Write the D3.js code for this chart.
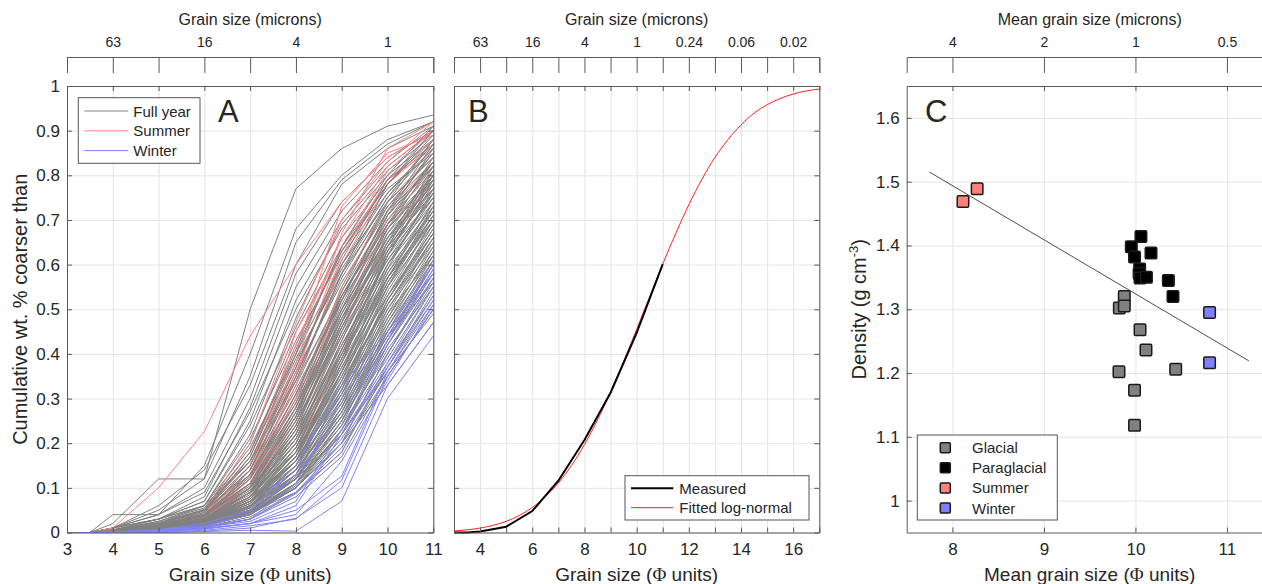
<!DOCTYPE html>
<html>
<head>
<meta charset="utf-8">
<script src="https://cdn.jsdelivr.net/npm/d3@7"></script>
<style>
  body { margin: 0; background: #fff; }
  svg text { font-family: "Liberation Sans", Arial, Helvetica, sans-serif; fill: #262626; }
</style>
</head>
<body>
<svg id="fig" width="1262" height="584"></svg>
<script>
// ---- panel A: cumulative curves (phi nodes shared by every curve)
const phiA = [3, 3.5, 4, 5, 6, 7, 8, 9, 10, 11];
const fullYear = [
  [0,0,0.01,0.05,0.12,0.50,0.77,0.86,0.91,0.935],
  [0,0,0.04,0.04,0.15,0.40,0.68,0.80,0.88,0.92],
  [0,0,0.02,0.12,0.12,0.35,0.65,0.79,0.87,0.92],
  [0,0,0.01,0.06,0.14,0.33,0.60,0.78,0.86,0.91],
  [0,0,0.01,0.04,0.10,0.30,0.58,0.74,0.84,0.90],
  [0,0,0.01,0.03,0.08,0.28,0.55,0.72,0.83,0.91],
  [0,0,0.005,0.03,0.07,0.25,0.52,0.70,0.82,0.90],
  [0,0,0.01,0.04,0.09,0.27,0.50,0.68,0.80,0.88],
  [0,0,0.004,0.02,0.06,0.22,0.48,0.69,0.81,0.89],
  [0,0,0.01,0.03,0.07,0.24,0.46,0.66,0.79,0.87],
  [0,0,0.003,0.02,0.05,0.20,0.45,0.64,0.78,0.88],
  [0,0,0.005,0.025,0.06,0.21,0.43,0.62,0.76,0.86],
  [0,0,0.004,0.02,0.05,0.18,0.42,0.63,0.77,0.85],
  [0,0,0.01,0.03,0.06,0.19,0.40,0.60,0.74,0.84],
  [0,0,0.003,0.015,0.045,0.17,0.39,0.58,0.73,0.83],
  [0,0,0.004,0.02,0.05,0.16,0.38,0.59,0.75,0.86],
  [0,0,0.005,0.02,0.04,0.15,0.36,0.56,0.72,0.82],
  [0,0,0.003,0.015,0.04,0.14,0.35,0.57,0.74,0.84],
  [0,0,0.006,0.03,0.06,0.16,0.34,0.53,0.69,0.80],
  [0,0,0.002,0.012,0.035,0.13,0.33,0.54,0.71,0.82],
  [0,0,0.004,0.02,0.045,0.14,0.32,0.52,0.68,0.79],
  [0,0,0.003,0.014,0.04,0.12,0.31,0.53,0.70,0.81],
  [0,0,0.002,0.01,0.03,0.11,0.30,0.50,0.67,0.78],
  [0,0,0.005,0.02,0.05,0.13,0.29,0.49,0.66,0.78],
  [0,0,0.003,0.012,0.035,0.12,0.28,0.48,0.65,0.77],
  [0,0,0.002,0.01,0.03,0.10,0.27,0.47,0.64,0.76],
  [0,0,0.004,0.018,0.04,0.11,0.26,0.46,0.63,0.75],
  [0,0,0.003,0.012,0.03,0.10,0.25,0.44,0.61,0.74],
  [0,0,0.002,0.01,0.025,0.09,0.24,0.45,0.62,0.75],
  [0,0,0.003,0.015,0.035,0.10,0.23,0.42,0.60,0.73],
  [0,0,0.002,0.01,0.03,0.09,0.22,0.41,0.59,0.72],
  [0,0,0.004,0.016,0.04,0.10,0.22,0.40,0.57,0.70],
  [0,0,0.002,0.01,0.025,0.08,0.21,0.39,0.57,0.71],
  [0,0,0.003,0.012,0.03,0.09,0.20,0.38,0.56,0.70],
  [0,0,0.002,0.008,0.02,0.07,0.19,0.37,0.55,0.69],
  [0,0,0.003,0.012,0.03,0.08,0.19,0.36,0.53,0.67],
  [0,0,0.002,0.01,0.025,0.08,0.18,0.35,0.53,0.68],
  [0,0,0.003,0.014,0.035,0.09,0.18,0.34,0.51,0.65],
  [0,0,0.002,0.008,0.02,0.07,0.17,0.33,0.51,0.66],
  [0,0,0.002,0.01,0.025,0.07,0.16,0.32,0.50,0.64],
  [0,0,0.003,0.012,0.03,0.08,0.16,0.31,0.48,0.63],
  [0,0,0.002,0.008,0.02,0.06,0.15,0.30,0.47,0.62],
  [0,0,0.002,0.01,0.025,0.07,0.15,0.29,0.46,0.61],
  [0,0,0.003,0.012,0.03,0.07,0.14,0.28,0.45,0.60],
  [0,0,0.002,0.008,0.02,0.06,0.14,0.27,0.44,0.60],
  [0,0,0.002,0.01,0.022,0.06,0.13,0.26,0.43,0.58],
  [0,0,0.002,0.008,0.02,0.05,0.12,0.25,0.42,0.57],
  [0,0,0.003,0.01,0.025,0.06,0.12,0.24,0.40,0.56],
  [0,0,0.002,0.008,0.018,0.05,0.11,0.23,0.39,0.55],
  [0,0,0.002,0.007,0.016,0.045,0.11,0.22,0.38,0.53],
  [0,0,0.002,0.008,0.02,0.05,0.10,0.21,0.37,0.52],
  [0,0,0.001,0.006,0.015,0.04,0.10,0.20,0.36,0.51],
  [0,0,0.002,0.007,0.018,0.045,0.09,0.19,0.35,0.50],
  [0,0,0.002,0.008,0.02,0.05,0.12,0.28,0.50,0.66],
  [0,0,0.003,0.01,0.025,0.07,0.17,0.36,0.58,0.74],
  [0,0,0.002,0.01,0.03,0.09,0.22,0.44,0.64,0.80],
  [0,0,0.004,0.015,0.04,0.12,0.30,0.55,0.73,0.85],
  [0,0,0.003,0.012,0.035,0.11,0.27,0.51,0.70,0.83],
  [0,0,0.002,0.01,0.03,0.10,0.25,0.49,0.69,0.82],
  [0,0,0.003,0.013,0.03,0.09,0.21,0.43,0.63,0.77],
  [0,0,0.002,0.01,0.025,0.08,0.19,0.39,0.60,0.76],
  [0,0,0.002,0.009,0.022,0.07,0.17,0.35,0.56,0.72],
  [0,0,0.002,0.008,0.02,0.06,0.15,0.33,0.54,0.70],
  [0,0,0.003,0.01,0.025,0.06,0.13,0.30,0.52,0.69],
  [0,0,0.002,0.008,0.018,0.05,0.12,0.27,0.48,0.65],
  [0,0,0.002,0.007,0.016,0.04,0.11,0.24,0.45,0.62],
  [0,0,0.001,0.006,0.015,0.04,0.10,0.22,0.42,0.59],
  [0,0,0.002,0.007,0.017,0.045,0.10,0.20,0.40,0.57],
  [0,0,0.001,0.005,0.012,0.035,0.09,0.18,0.37,0.54],
  [0,0,0.001,0.005,0.012,0.03,0.08,0.17,0.35,0.50],
  [0,0,0.002,0.008,0.02,0.045,0.10,0.20,0.33,0.47],
  [0,0,0.002,0.01,0.025,0.05,0.12,0.22,0.36,0.49],
  [0,0,0.003,0.013,0.03,0.09,0.23,0.46,0.66,0.80],
  [0,0,0.003,0.012,0.03,0.08,0.20,0.41,0.62,0.79],
  [0,0,0.002,0.012,0.03,0.10,0.26,0.50,0.71,0.86],
  [0,0,0.003,0.014,0.04,0.12,0.29,0.54,0.74,0.88],
  [0,0,0.002,0.01,0.03,0.14,0.34,0.58,0.78,0.90],
  [0,0,0.004,0.02,0.05,0.17,0.40,0.64,0.80,0.91],
  [0,0,0.003,0.015,0.04,0.13,0.31,0.52,0.72,0.87],
  [0,0,0.002,0.01,0.028,0.09,0.24,0.47,0.68,0.83],
  [0,0,0.002,0.009,0.022,0.06,0.16,0.34,0.55,0.71],
  [0,0,0.003,0.011,0.028,0.075,0.18,0.37,0.57,0.73],
  [0,0,0.002,0.01,0.024,0.065,0.17,0.38,0.60,0.75],
  [0,0,0.003,0.012,0.03,0.085,0.21,0.42,0.61,0.76],
  [0,0,0.002,0.009,0.024,0.07,0.19,0.40,0.62,0.78],
  [0,0,0.003,0.013,0.032,0.095,0.24,0.46,0.65,0.79],
  [0,0,0.002,0.01,0.026,0.08,0.22,0.45,0.67,0.81],
  [0,0,0.003,0.012,0.03,0.09,0.25,0.48,0.68,0.80],
  [0,0,0.002,0.008,0.02,0.055,0.14,0.31,0.53,0.70],
  [0,0,0.002,0.009,0.021,0.058,0.15,0.32,0.52,0.68],
  [0,0,0.001,0.006,0.015,0.045,0.12,0.28,0.49,0.66],
  [0,0,0.002,0.008,0.019,0.05,0.13,0.29,0.51,0.67],
  [0,0,0.002,0.007,0.017,0.048,0.125,0.26,0.47,0.64],
  [0,0,0.001,0.006,0.014,0.04,0.11,0.25,0.46,0.63],
  [0,0,0.002,0.007,0.016,0.042,0.105,0.23,0.43,0.61],
  [0,0,0.003,0.011,0.027,0.08,0.20,0.40,0.58,0.72],
  [0,0,0.004,0.016,0.038,0.11,0.28,0.50,0.66,0.77],
  [0,0,0.003,0.014,0.036,0.105,0.27,0.48,0.64,0.76],
  [0,0,0.004,0.017,0.042,0.125,0.31,0.53,0.69,0.79],
  [0,0,0.005,0.022,0.05,0.15,0.37,0.60,0.76,0.87],
  [0,0,0.004,0.02,0.048,0.14,0.35,0.58,0.75,0.88],
  [0,0,0.006,0.025,0.055,0.18,0.41,0.63,0.78,0.89],
  [0,0,0.005,0.022,0.052,0.16,0.37,0.61,0.79,0.90],
  [0,0,0.002,0.01,0.025,0.075,0.20,0.43,0.65,0.82],
  [0,0,0.002,0.009,0.022,0.065,0.18,0.41,0.64,0.81],
  [0,0,0.002,0.008,0.02,0.06,0.16,0.38,0.62,0.79],
  [0,0,0.002,0.008,0.019,0.055,0.15,0.36,0.59,0.77],
  [0,0,0.001,0.007,0.017,0.05,0.14,0.34,0.57,0.74],
  [0,0,0.001,0.006,0.015,0.045,0.13,0.32,0.55,0.73],
  [0,0,0.002,0.008,0.02,0.06,0.17,0.39,0.63,0.80],
  [0,0,0.003,0.012,0.03,0.09,0.23,0.47,0.69,0.84],
  [0,0,0.003,0.013,0.032,0.10,0.26,0.52,0.72,0.85],
  [0,0,0.003,0.015,0.036,0.11,0.28,0.53,0.71,0.83],
  [0,0,0.002,0.01,0.025,0.07,0.18,0.36,0.56,0.71],
  [0,0,0.002,0.009,0.023,0.065,0.16,0.33,0.52,0.67],
  [0,0,0.002,0.008,0.02,0.055,0.13,0.27,0.45,0.58],
  [0,0,0.002,0.007,0.017,0.05,0.12,0.26,0.44,0.56],
  [0,0,0.001,0.006,0.015,0.04,0.10,0.23,0.41,0.55],
  [0,0,0.002,0.007,0.016,0.045,0.11,0.25,0.43,0.60],
  [0,0,0.003,0.011,0.026,0.07,0.16,0.31,0.49,0.62]
];
const summer = [
  [0,0,0.01,0.10,0.226,0.44,0.60,0.74,0.84,0.90],
  [0,0,0.004,0.02,0.05,0.20,0.47,0.70,0.83,0.92],
  [0,0,0.003,0.015,0.04,0.17,0.42,0.66,0.82,0.90],
  [0,0,0.005,0.02,0.05,0.15,0.40,0.73,0.85,0.89],
  [0,0,0.003,0.012,0.035,0.13,0.36,0.62,0.79,0.88],
  [0,0,0.002,0.01,0.03,0.12,0.33,0.60,0.78,0.87],
  [0,0,0.003,0.015,0.04,0.14,0.38,0.67,0.86,0.92],
  [0,0,0.002,0.01,0.03,0.11,0.30,0.55,0.74,0.85],
  [0,0,0.003,0.012,0.035,0.10,0.28,0.52,0.72,0.83],
  [0,0,0.002,0.01,0.025,0.09,0.26,0.50,0.70,0.81],
  [0,0,0.002,0.008,0.02,0.08,0.22,0.45,0.66,0.79],
  [0,0,0.002,0.01,0.03,0.12,0.45,0.63,0.79,0.86],
  [0,0,0.002,0.008,0.02,0.07,0.18,0.40,0.62,0.78],
  [0,0,0.003,0.01,0.028,0.10,0.35,0.64,0.81,0.90]
];
const winter = [
  [0,0,0,0,0.002,0.005,0.003,0.07,0.30,0.44],
  [0,0,0,0,0.003,0.01,0.032,0.10,0.33,0.47],
  [0,0,0,0.001,0.005,0.015,0.03,0.117,0.35,0.50],
  [0,0,0,0.002,0.008,0.02,0.05,0.126,0.36,0.52],
  [0,0,0,0.002,0.01,0.03,0.087,0.18,0.38,0.55],
  [0,0,0,0.003,0.012,0.03,0.09,0.20,0.40,0.57],
  [0,0,0.001,0.004,0.012,0.025,0.07,0.23,0.42,0.58],
  [0,0,0,0.003,0.01,0.02,0.04,0.16,0.34,0.51],
  [0,0,0.001,0.005,0.015,0.04,0.13,0.26,0.43,0.59],
  [0,0,0.001,0.004,0.012,0.03,0.11,0.30,0.44,0.60],
  [0,0,0,0.002,0.008,0.02,0.06,0.22,0.37,0.53],
  [0,0,0.001,0.006,0.02,0.05,0.15,0.33,0.45,0.61]
];

// ---- panel B: one measured sample and its fitted log-normal
const phiMeasured = [3, 3.5, 4, 5, 6, 7, 8, 9, 10, 11];
const measured = [0, 0, 0.002, 0.013, 0.048, 0.116, 0.207, 0.313, 0.447, 0.601];
const phiFitted = [3, 3.5, 4, 4.5, 5, 5.5, 6, 6.5, 7, 7.5, 8, 8.5, 9, 9.5, 10,
  10.5, 11, 11.5, 12, 12.5, 13, 13.5, 14, 14.5, 15, 15.5, 16, 16.5, 17];
const fitted = [0.0035, 0.006, 0.010, 0.016, 0.025, 0.038, 0.056, 0.080, 0.111,
  0.150, 0.197, 0.252, 0.315, 0.383, 0.455, 0.528, 0.601, 0.670, 0.734, 0.791,
  0.840, 0.880, 0.913, 0.939, 0.958, 0.972, 0.982, 0.989, 0.993];

// ---- panel C: mean grain size vs density
const glacialPhi = [9.878, 9.824, 9.878, 10.05, 10.115, 10.44, 9.82, 9.99, 9.99];
const glacialDensity = [1.320, 1.302, 1.305, 1.268, 1.236, 1.206, 1.202, 1.173, 1.118];
const paraglacialPhi = [10.06, 9.955, 9.99, 10.17, 10.046, 10.04, 10.05, 10.12, 10.36, 10.41];
const paraglacialDensity = [1.414, 1.398, 1.382, 1.388, 1.363, 1.356, 1.349, 1.350, 1.345, 1.320];
const summerPhi = [8.115, 8.27];
const summerDensity = [1.469, 1.489];
const winterPhi = [10.81, 10.81];
const winterDensity = [1.295, 1.216];
const trendPhi = [7.75, 11.24];
const trendDensity = [1.515, 1.219];

// ---- tick labels
const ticksA = [3, 4, 5, 6, 7, 8, 9, 10, 11];
const ticksB = [3, 4, 5, 6, 7, 8, 9, 10, 11, 12, 13, 14, 15, 16, 17];
const labelsB = [4, 6, 8, 10, 12, 14, 16];
const micronPhiA = [4, 6, 8, 10];
const micronLabelsA = ["63", "16", "4", "1"];
const micronPhiB = [4, 6, 8, 10, 12, 14, 16];
const micronLabelsB = ["63", "16", "4", "1", "0.24", "0.06", "0.02"];
const ticksC = [8, 9, 10, 11];
const micronLabelsC = ["4", "2", "1", "0.5"];
const yTicksAB = d3.range(0, 11).map(i => i / 10);
const yTicksC = [1, 1.1, 1.2, 1.3, 1.4, 1.5, 1.6];

const svg = d3.select("#fig");
const plotTop = 86, plotBot = 532.5;
const axisCol = "#595959", gridCol = "#e4e4e4";

const yAB = d3.scaleLinear().domain([0, 1]).range([plotBot, plotTop]);
const xA = d3.scaleLinear().domain([3, 11]).range([67, 433.3]);
const xB = d3.scaleLinear().domain([3, 17]).range([454, 819.3]);
const xC = d3.scaleLinear().domain([7.5, 11.5]).range([906.7, 1272.7]);
const yC = d3.scaleLinear().domain([0.95, 1.65]).range([plotBot, plotTop]);

function styleAxis(g, size) {
  g.selectAll("path, line").attr("stroke", axisCol);
  g.selectAll("text").attr("font-size", size).attr("fill", "#262626")
    .style("font-family", '"Liberation Sans", Arial, sans-serif');
}

function grid(x, y, xt, yt) {
  const [x0, x1] = x.range(), [y0, y1] = y.range();
  const g = svg.append("g");
  g.append("g").attr("transform", `translate(0,${y0})`)
    .call(d3.axisBottom(x).tickValues(xt).tickSize(-(y0 - y1)).tickFormat(""))
    .call(a => a.select(".domain").remove());
  g.append("g").attr("transform", `translate(${x0},0)`)
    .call(d3.axisLeft(y).tickValues(yt).tickSize(-(x1 - x0)).tickFormat(""))
    .call(a => a.select(".domain").remove());
  g.selectAll("line").attr("stroke", gridCol);
}

function frame(x, y, xt, yt, xFmt, yFmt) {
  const [x0, x1] = x.range(), [y0, y1] = y.range();
  const b = svg.append("g").attr("transform", `translate(0,${y0})`)
    .call(d3.axisBottom(x).tickValues(xt).tickSize(-5).tickSizeOuter(0).tickPadding(10).tickFormat(xFmt));
  styleAxis(b, 17);
  const t = svg.append("g").attr("transform", `translate(0,${y1})`)
    .call(d3.axisTop(x).tickValues(xt).tickSize(-5).tickSizeOuter(0).tickFormat(""));
  styleAxis(t, 17);
  const l = svg.append("g").attr("transform", `translate(${x0},0)`)
    .call(d3.axisLeft(y).tickValues(yt).tickSize(-5).tickSizeOuter(0).tickPadding(7).tickFormat(yFmt));
  styleAxis(l, 17);
  const r = svg.append("g").attr("transform", `translate(${x1},0)`)
    .call(d3.axisRight(y).tickValues(yt).tickSize(-5).tickSizeOuter(0).tickFormat(""));
  styleAxis(r, 17);
}

function micronAxis(x, ticks, phis, labels, title) {
  const g = svg.append("g").attr("transform", "translate(0,57)")
    .call(d3.axisTop(x).tickValues(ticks).tickSize(-16).tickSizeOuter(-16).tickPadding(10)
      .tickFormat(d => { const i = phis.indexOf(d); return i < 0 ? "" : labels[i]; }));
  styleAxis(g, 14);
  const [x0, x1] = x.range();
  svg.append("text").attr("x", (x0 + x1) / 2).attr("y", 25)
    .attr("text-anchor", "middle").attr("font-size", 16).text(title);
}

function xTitle(x, pre, post) {
  const [x0, x1] = x.range();
  const t = svg.append("text").attr("x", (x0 + x1) / 2).attr("y", 581)
    .attr("text-anchor", "middle").attr("font-size", 19);
  t.append("tspan").text(pre);
  t.append("tspan").style("font-family", '"Liberation Serif", "DejaVu Serif", serif').text("\u03A6");
  t.append("tspan").text(post);
}

function letter(x, s) {
  svg.append("text").attr("x", x).attr("y", 122).attr("font-size", 31).text(s);
}

// ===== Panel A
grid(xA, yAB, ticksA, yTicksAB);
const lineA = d3.line().x((d, i) => xA(phiA[i])).y(d => yAB(d));
const gA = svg.append("g").attr("fill", "none");
// summer curves sit among the full-year ones, winter on top
gA.append("g").selectAll("path").data(fullYear.slice(0, 70)).join("path").attr("d", lineA)
  .attr("stroke", "#808080").attr("stroke-width", 1);
gA.append("g").selectAll("path").data(summer).join("path").attr("d", lineA)
  .attr("stroke", "#ff8080").attr("stroke-width", 1);
gA.append("g").selectAll("path").data(fullYear.slice(70)).join("path").attr("d", lineA)
  .attr("stroke", "#808080").attr("stroke-width", 1);
gA.append("g").selectAll("path").data(winter).join("path").attr("d", lineA)
  .attr("stroke", "#8080ff").attr("stroke-width", 1);
frame(xA, yAB, ticksA, yTicksAB, d3.format("d"), d => d === 0 ? "0" : d === 1 ? "1" : d3.format(".1f")(d));
micronAxis(xA, ticksA, micronPhiA, micronLabelsA, "Grain size (microns)");
xTitle(xA, "Grain size (", " units)");
svg.append("text").attr("transform", `translate(27,${(plotTop + plotBot) / 2}) rotate(-90)`)
  .attr("text-anchor", "middle").attr("font-size", 20).text("Cumulative wt. % coarser than");
letter(218, "A");

const legA = [["Full year", "#808080"], ["Summer", "#ff8080"], ["Winter", "#8080ff"]];
svg.append("rect").attr("x", 78.3).attr("y", 97.7).attr("width", 121.7).attr("height", 65.6)
  .attr("fill", "#fff").attr("stroke", "#555");
legA.forEach(([name, col], i) => {
  const yy = 111 + i * 19.8;
  svg.append("line").attr("x1", 84.3).attr("x2", 128.3).attr("y1", yy).attr("y2", yy)
    .attr("stroke", col).attr("stroke-width", 1);
  svg.append("text").attr("x", 133.3).attr("y", yy + 5.5).attr("font-size", 15).text(name);
});

// ===== Panel B
grid(xB, yAB, ticksB, yTicksAB);
svg.append("path").datum(fitted).attr("fill", "none").attr("stroke", "#ff2020").attr("stroke-width", 1)
  .attr("d", d3.line().curve(d3.curveMonotoneX).x((d, i) => xB(phiFitted[i])).y(d => yAB(d)));
svg.append("path").datum(measured).attr("fill", "none").attr("stroke", "#000").attr("stroke-width", 2)
  .attr("d", d3.line().x((d, i) => xB(phiMeasured[i])).y(d => yAB(d)));
frame(xB, yAB, ticksB, yTicksAB, d => labelsB.includes(d) ? d : "", () => "");
micronAxis(xB, ticksB, micronPhiB, micronLabelsB, "Grain size (microns)");
xTitle(xB, "Grain size (", " units)");
letter(468, "B");

svg.append("rect").attr("x", 625).attr("y", 475.7).attr("width", 184).attr("height", 44.3)
  .attr("fill", "#fff").attr("stroke", "#555");
[["Measured", "#000", 2], ["Fitted log-normal", "#ff2020", 1]].forEach(([name, col, w], i) => {
  const yy = 488.3 + i * 19.4;
  svg.append("line").attr("x1", 631).attr("x2", 673.3).attr("y1", yy).attr("y2", yy)
    .attr("stroke", col).attr("stroke-width", w);
  svg.append("text").attr("x", 679.3).attr("y", yy + 5.5).attr("font-size", 15).text(name);
});

// ===== Panel C
grid(xC, yC, ticksC, yTicksC);
svg.append("path").datum(trendPhi.map((p, i) => [p, trendDensity[i]]))
  .attr("fill", "none").attr("stroke", "#4d4d4d").attr("stroke-width", 1)
  .attr("d", d3.line().x(d => xC(d[0])).y(d => yC(d[1])));
const groupsC = [
  [glacialPhi, glacialDensity, "#808080"],
  [paraglacialPhi, paraglacialDensity, "#000000"],
  [summerPhi, summerDensity, "#ff7f7f"],
  [winterPhi, winterDensity, "#7f7fff"]
];
const mk = 11.5;
groupsC.forEach(([px, py, col]) => {
  svg.append("g").selectAll("rect").data(px).join("rect")
    .attr("x", (d) => xC(d) - mk / 2).attr("y", (d, i) => yC(py[i]) - mk / 2)
    .attr("width", mk).attr("height", mk).attr("rx", 1.2)
    .attr("fill", col).attr("stroke", "#1a1a1a").attr("stroke-width", 1.5);
});
frame(xC, yC, ticksC, yTicksC, d3.format("d"), d => d === 1 ? "1" : d3.format(".1f")(d));
micronAxis(xC, ticksC, ticksC, micronLabelsC, "Mean grain size (microns)");
xTitle(xC, "Mean grain size (", " units)");
const dl = svg.append("text").attr("transform", `translate(866,${(plotTop + plotBot) / 2}) rotate(-90)`)
  .attr("text-anchor", "middle").attr("font-size", 20);
dl.append("tspan").text("Density (g cm");
dl.append("tspan").attr("font-size", 13).attr("dy", -8).text("-3");
dl.append("tspan").attr("dy", 8).text(")");
letter(925, "C");

svg.append("rect").attr("x", 917.3).attr("y", 435).attr("width", 140).attr("height", 85)
  .attr("fill", "#fff").attr("stroke", "#555");
[["Glacial", "#808080"], ["Paraglacial", "#000000"], ["Summer", "#ff7f7f"], ["Winter", "#7f7fff"]]
  .forEach(([name, col], i) => {
    const yy = 447.7 + i * 20.1;
    svg.append("rect").attr("x", 945.3 - 5).attr("y", yy - 5).attr("width", 10).attr("height", 10)
      .attr("rx", 1).attr("fill", col).attr("stroke", "#1a1a1a").attr("stroke-width", 1.5);
    svg.append("text").attr("x", 972).attr("y", yy + 5.5).attr("font-size", 15).text(name);
  });
</script>
</body>
</html>
